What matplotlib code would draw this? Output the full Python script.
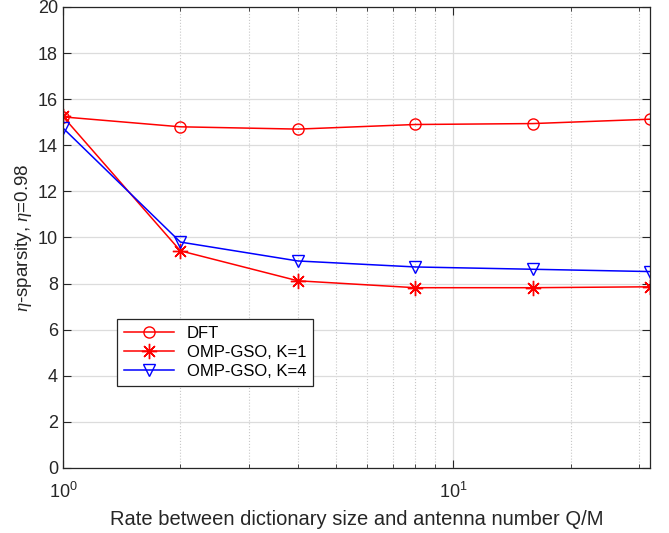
import matplotlib
matplotlib.use('Agg')
import matplotlib.pyplot as plt
from matplotlib.ticker import LogLocator, NullFormatter

plt.rcParams['font.family'] = ['Liberation Sans', 'DejaVu Sans']
plt.rcParams['mathtext.fontset'] = 'custom'
plt.rcParams['mathtext.it'] = 'Liberation Serif:italic'
plt.rcParams['mathtext.rm'] = 'Liberation Sans'

# rate Q/M and eta-sparsity for each dictionary
rate = [1, 2, 4, 8, 16, 32]
dft = [15.23, 14.8, 14.7, 14.9, 14.94, 15.13]
omp_k1 = [15.25, 9.42, 8.12, 7.82, 7.82, 7.86]
omp_k4 = [14.75, 9.8, 8.98, 8.72, 8.62, 8.52]

fig = plt.figure(figsize=(6.69, 5.33), dpi=100)
ax = fig.add_axes([0.094, 0.122, 0.878, 0.865])

ax.semilogx(rate, dft, '-o', color='red', lw=1.1, ms=8, mfc='none', mew=1.0, label='DFT')
ax.semilogx(rate, omp_k1, '-', marker=(8, 2, 0), color='red', lw=1.1, ms=11, mew=1.0,
            label='OMP-GSO, K=1')
ax.semilogx(rate, omp_k4, '-v', color='blue', lw=1.1, ms=9, mfc='none', mew=1.0, label='OMP-GSO, K=4')

ax.set_xlim(1, 32)
ax.set_ylim(0, 20)
ax.set_yticks(range(0, 21, 2))
ax.xaxis.set_minor_locator(LogLocator(base=10, subs=range(2, 10)))
ax.xaxis.set_minor_formatter(NullFormatter())

ax.grid(True, which='major', color='#dcdcdc', lw=0.9, ls='-')
ax.grid(True, which='minor', axis='x', color='#c8c8c8', lw=0.8, ls=':')
ax.set_axisbelow(True)

ax.tick_params(which='both', direction='in', top=True, right=True, labelsize=13, colors='#262626')
ax.tick_params(which='major', length=6)
ax.tick_params(which='minor', length=3)
ax.tick_params(axis='x', which='major', pad=10)
for s in ax.spines.values():
    s.set_color('#262626')
    s.set_linewidth(0.9)

ax.set_xlabel('Rate between dictionary size and antenna number Q/M', fontsize=14.5,
              color='#262626', labelpad=6)
ax.set_ylabel(r'$\eta$-sparsity, $\eta$=0.98', fontsize=13.5, color='#262626', labelpad=3)

leg = ax.legend(loc='lower left', bbox_to_anchor=(0.078, 0.16), fontsize=12,
                fancybox=False, edgecolor='#262626', framealpha=1, handlelength=3,
                borderpad=0.4, labelspacing=0.25)
leg.get_frame().set_linewidth(0.9)

fig.savefig('out.png', dpi=100)
